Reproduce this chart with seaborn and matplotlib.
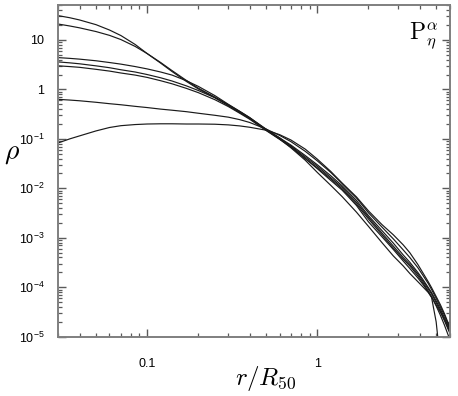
import matplotlib
matplotlib.use("Agg")
import matplotlib.pyplot as plt
import seaborn as sns
import pandas as pd
from matplotlib.ticker import FixedLocator, FixedFormatter, LogLocator, NullFormatter

# radius grid (r / R50)
r = [0.03, 0.035, 0.04, 0.05, 0.06, 0.07, 0.085, 0.1, 0.12, 0.14, 0.17, 0.2,
     0.25, 0.3, 0.35, 0.4, 0.5, 0.6, 0.7, 0.85, 1.0, 1.2, 1.4, 1.7, 2.0, 2.4,
     2.8, 3.2, 3.5, 3.9, 4.2, 4.5, 4.7, 5.0, 5.3, 5.6, 6.0]

# density profiles
rho_a = [31, 28.2, 25.4, 20.4, 15.9, 12.3, 8.1, 5.3, 3.4, 2.3, 1.45, 1.02,
         0.68, 0.47, 0.34, 0.26, 0.155, 0.1, 0.066, 0.037, 0.021, 0.0115, 0.0068, 0.0033, 0.0017, 8e-4,
         4.3e-4, 2.7e-4, 1.9e-4, 1.3e-4, 1.0e-4, 7.8e-5, 6.2e-5, 2e-5, 3e-6, 5e-7, 1e-7]
rho_b = [21, 19.2, 17.6, 14.8, 12.4, 10.2, 7.4, 5.3, 3.5, 2.4, 1.52, 1.06,
         0.7, 0.49, 0.36, 0.27, 0.158, 0.105, 0.07, 0.04, 0.025, 0.0145, 0.0092, 0.0045, 0.0021, 1.05e-3,
         5.8e-4, 3.4e-4, 2.4e-4, 1.55e-4, 1.12e-4, 8e-5, 6.4e-5, 4.4e-5, 3.1e-5, 2.1e-5, 1.2e-5]
rho_c = [4.4, 4.25, 4.1, 3.8, 3.5, 3.25, 2.9, 2.6, 2.25, 1.95, 1.5, 1.15,
         0.75, 0.5, 0.36, 0.27, 0.153, 0.105, 0.075, 0.046, 0.03, 0.018, 0.0113, 0.0057, 0.0028, 1.4e-3,
         7.8e-4, 4.5e-4, 3.2e-4, 2.0e-4, 1.4e-4, 9.8e-5, 7.8e-5, 5.3e-5, 3.6e-5, 2.4e-5, 1.4e-5]
rho_d = [3.6, 3.45, 3.3, 3.0, 2.75, 2.5, 2.25, 2.0, 1.72, 1.48, 1.18, 0.95,
         0.68, 0.48, 0.35, 0.26, 0.15, 0.1, 0.072, 0.043, 0.028, 0.0165, 0.0105, 0.0052, 0.0026, 1.25e-3,
         6.8e-4, 4.0e-4, 2.9e-4, 1.85e-4, 1.3e-4, 9.2e-5, 7.3e-5, 4.9e-5, 3.3e-5, 2.2e-5, 1.3e-5]
rho_e = [3.0, 2.9, 2.8, 2.55, 2.35, 2.15, 1.95, 1.75, 1.5, 1.3, 1.05, 0.86,
         0.62, 0.45, 0.33, 0.25, 0.148, 0.098, 0.068, 0.04, 0.026, 0.0155, 0.0098, 0.0048, 0.0024, 1.15e-3,
         6.2e-4, 3.7e-4, 2.7e-4, 1.7e-4, 1.2e-4, 8.3e-5, 6.4e-5, 4.2e-5, 2.7e-5, 1.7e-5, 9e-6]
rho_f = [0.63, 0.61, 0.59, 0.55, 0.515, 0.49, 0.455, 0.43, 0.4, 0.38, 0.355, 0.33,
         0.3, 0.275, 0.245, 0.215, 0.158, 0.118, 0.088, 0.056, 0.036, 0.021, 0.0125, 0.0064, 0.0032, 1.65e-3,
         9.5e-4, 5.7e-4, 4.0e-4, 2.5e-4, 1.7e-4, 1.18e-4, 9e-5, 6.0e-5, 4.0e-5, 2.7e-5, 1.5e-5]
rho_g = [0.083, 0.1, 0.115, 0.145, 0.17, 0.185, 0.195, 0.2, 0.202, 0.202, 0.2, 0.2,
         0.198, 0.192, 0.183, 0.172, 0.15, 0.122, 0.095, 0.062, 0.039, 0.022, 0.0128, 0.0067, 0.0035, 1.85e-3,
         1.15e-3, 7.2e-4, 5.0e-4, 2.9e-4, 1.9e-4, 1.28e-4, 9.8e-5, 6.5e-5, 4.4e-5, 2.9e-5, 1.6e-5]

x_ticks = [0.1, 1]
x_tick_labels = ["0.1", "1"]
y_ticks = [1e-5, 1e-4, 1e-3, 1e-2, 1e-1, 1, 10]
y_tick_labels = [r"$\mathregular{10^{-5}}$", r"$\mathregular{10^{-4}}$",
                 r"$\mathregular{10^{-3}}$", r"$\mathregular{10^{-2}}$",
                 r"$\mathregular{10^{-1}}$", "1", "10"]

curves = {"a": rho_a, "b": rho_b, "c": rho_c, "d": rho_d,
          "e": rho_e, "f": rho_f, "g": rho_g}
df = pd.concat([pd.DataFrame({"r": r, "rho": v, "curve": k})
                for k, v in curves.items()], ignore_index=True)

plt.rcParams["font.family"] = ["Liberation Sans", "DejaVu Sans"]
plt.rcParams["mathtext.fontset"] = "cm"

fig = plt.figure(figsize=(4.58, 3.96), dpi=100)
ax = fig.add_axes([0.1273, 0.1497, 0.8544, 0.8377])
ax.set_xscale("log")
ax.set_yscale("log")

sns.lineplot(data=df, x="r", y="rho", units="curve", estimator=None,
             color="#1a1a1a", lw=0.85, ax=ax, sort=False)

ax.set_xlim(0.03, 6.0)
ax.set_ylim(1e-5, 51)

gray = "#7f7f7f"
for s in ax.spines.values():
    s.set_color(gray)
    s.set_linewidth(1.4)

ax.xaxis.set_major_locator(FixedLocator(x_ticks))
ax.xaxis.set_major_formatter(FixedFormatter(x_tick_labels))
ax.xaxis.set_minor_locator(LogLocator(base=10, subs=range(2, 10), numticks=20))
ax.xaxis.set_minor_formatter(NullFormatter())
ax.yaxis.set_major_locator(FixedLocator(y_ticks))
ax.yaxis.set_major_formatter(FixedFormatter(y_tick_labels))
ax.yaxis.set_minor_locator(LogLocator(base=10, subs=range(2, 10), numticks=20))
ax.yaxis.set_minor_formatter(NullFormatter())

ax.tick_params(which="both", direction="in", top=True, right=True,
               bottom=True, left=True, color="#5a5a5a",
               labelsize=9, labelcolor="black")
ax.tick_params(which="major", length=6, width=1.0)
ax.tick_params(which="minor", length=3.2, width=0.9)
ax.tick_params(axis="x", which="major", pad=15)
ax.tick_params(axis="y", which="major", pad=10)

ax.set_xlabel(r"$r/R_{50}$", fontsize=18)
ax.xaxis.set_label_coords(0.531, -0.125)
ax.xaxis.label.set_va("center")
ax.set_ylabel(r"$\rho$", fontsize=20, rotation=0)
ax.yaxis.set_label_coords(-0.118, 0.554)
ax.yaxis.label.set_va("center")
ax.yaxis.label.set_ha("center")

ax.text(0.97, 0.955, r"$\mathrm{P}_{\eta}^{\alpha}$", transform=ax.transAxes,
        ha="right", va="top", fontsize=17)

fig.savefig("out.png", dpi=100)
